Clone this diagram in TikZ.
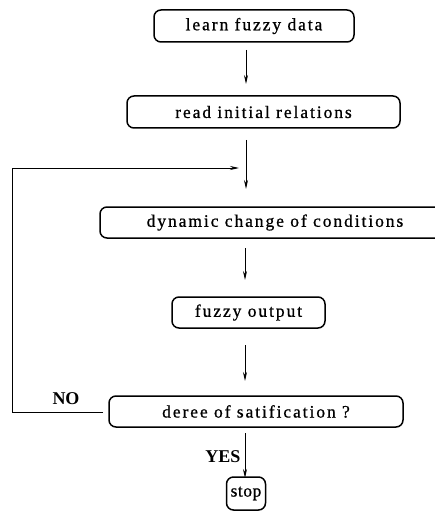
\documentclass[tikz,border=0pt]{standalone}
\usepackage{fontspec}
\setmainfont{Liberation Serif}
\newfontfamily\boxfont{Liberation Serif}[LetterSpace=11,FakeBold=0.8]
\newfontfamily\tightfont{Liberation Serif}[LetterSpace=3,FakeBold=0.8]
\usetikzlibrary{arrows.meta}
\tikzset{
  stepbox/.style={draw, rounded corners=7pt, line width=1.5pt, inner sep=0pt,
    font=\boxfont\fontsize{17.5}{20}\selectfont},
  conn/.style={line width=0.9pt, -{Stealth[length=9pt,width=4pt]}},
  lbl/.style={font=\bfseries\fontsize{18}{20}\selectfont, inner sep=0pt}
}
\begin{document}
\begin{tikzpicture}[x=1pt,y=-1pt]
\useasboundingbox (0,0) rectangle (434,521);
\node[stepbox, minimum width=200pt, minimum height=32pt] (learn) at (254,26) {learn fuzzy data};
\node[stepbox, minimum width=273pt, minimum height=32pt] (read) at (263.5,112) {read initial relations};
\node[stepbox, minimum width=350pt, minimum height=31pt] (dyn) at (275,222.5) {dynamic change of conditions};
\node[stepbox, minimum width=153pt, minimum height=31pt] (out) at (248.5,312.5) {fuzzy output};
\node[stepbox, minimum width=294pt, minimum height=31pt] (deg) at (256,411.5) {deree of satification ?};
\node[stepbox, minimum width=39pt, minimum height=33pt, font=\tightfont\fontsize{17.5}{20}\selectfont] (stop) at (246,493.5) {stop};

\coordinate (a1s) at (246,50); \coordinate (a1e) at (246,84);
\coordinate (a2s) at (246,140); \coordinate (a2e) at (246,189);
\coordinate (a3s) at (245,248); \coordinate (a3e) at (245,280);
\coordinate (a4s) at (245,345); \coordinate (a4e) at (245,381);
\coordinate (a5s) at (245,433); \coordinate (a5e) at (245,478);
\coordinate (ls) at (103,412); \coordinate (lc1) at (12,412);
\coordinate (lc2) at (12,168); \coordinate (le) at (239,168);

\draw[conn] (a1s) -- (a1e);
\draw[conn] (a2s) -- (a2e);
\draw[conn] (a3s) -- (a3e);
\draw[conn] (a4s) -- (a4e);
\draw[conn] (a5s) -- (a5e);
\draw[conn] (ls) -- (lc1) -- (lc2) -- (le);

\node[lbl] (no) at (66,399) {NO};
\node[lbl] (yes) at (223,456.5) {YES};
\end{tikzpicture}
\end{document}
